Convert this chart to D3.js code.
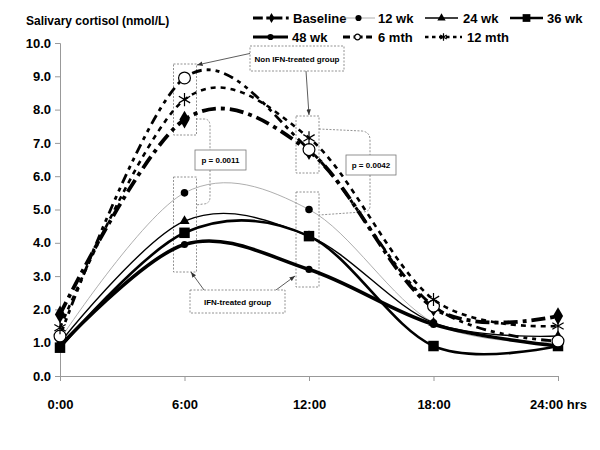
<!DOCTYPE html>
<html><head><meta charset="utf-8">
<script src="https://cdn.jsdelivr.net/npm/d3@7/dist/d3.min.js"></script>
<style>body{margin:0;background:#fff}svg{font-family:"Liberation Sans",Arial,sans-serif;font-weight:bold}</style>
</head><body><svg id="c" width="600" height="450"></svg>
<script>
const hours = [0, 6, 12, 18, 24];
const xTickLabels = ["0:00", "6:00", "12:00", "18:00", "24:00 hrs"];
const yTicks = [0,1,2,3,4,5,6,7,8,9,10];
const seriesNames = ["Baseline","12 wk","24 wk","36 wk","48 wk","6 mth","12 mth"];
const baseline = [1.85, 7.7, 6.75, 2.05, 1.8];
const wk12 = [1.1, 5.5, 5.0, 1.6, 1.0];
const wk24 = [1.0, 4.65, 4.2, 1.6, 1.2];
const wk36 = [0.85, 4.3, 4.2, 0.9, 0.9];
const wk48 = [0.9, 3.95, 3.2, 1.55, 0.9];
const mth6 = [1.2, 8.95, 6.8, 2.1, 1.05];
const mth12 = [1.45, 8.3, 7.15, 2.3, 1.5];

const svg = d3.select("#c");
const x = d3.scaleLinear().domain([0,24]).range([60,558]);
const y = d3.scaleLinear().domain([0,10]).range([376,43]);

// axes
const xAxis = svg.append("g").attr("transform","translate(0,376)")
  .call(d3.axisBottom(x).tickValues(hours).tickSize(5).tickPadding(19).tickFormat((d,i)=>xTickLabels[i]));
const yAxis = svg.append("g").attr("transform","translate(60,0)")
  .call(d3.axisLeft(y).tickValues(yTicks).tickSize(5).tickPadding(4).tickFormat(d3.format(".1f")));
[xAxis,yAxis].forEach(a=>{
  a.selectAll("path,line").attr("stroke","#999");
  a.selectAll("text").attr("fill","#000").style("font-size","13px").style("font-weight","bold");
});
svg.append("text").attr("x",26).attr("y",25).style("font-size","12px").text("Salivary cortisol (nmol/L)");

// annotations (behind lines)
const ann = svg.append("g").attr("fill","none").attr("stroke","#777").attr("stroke-width",0.8).attr("stroke-dasharray","2,1.5");
function box(x0,y0,x1,y1){ann.append("rect").attr("x",x0).attr("y",y0).attr("width",x1-x0).attr("height",y1-y0);}
box(x(6)-11,64,x(6)+12,135);
box(x(12)-13,116,x(12)+10,173);
box(x(6)-11,177,x(6)+12,272);
box(x(12)-13,192,x(12)+10,287);
// brackets
ann.append("path").attr("d","M196,119 L204,119 Q210,119 210,126 L210,150 M210,170 L210,197 Q210,204 203,204 L196,205");
ann.append("path").attr("d","M319,129 L362,131 Q370,132 370,140 L370,155 M370,175 L370,206 Q370,212 362,212 L319,215");

const defs = svg.append("defs");
defs.append("marker").attr("id","ah").attr("viewBox","0 0 10 10").attr("refX",10).attr("refY",5)
  .attr("markerWidth",7).attr("markerHeight",7).attr("orient","auto")
  .append("path").attr("d","M0,1 L10,5 L0,9 Z").attr("fill","#333");
const arr = svg.append("g").attr("stroke","#333").attr("stroke-width",0.8);
function arrow(a,b,c,d){arr.append("line").attr("x1",a).attr("y1",b).attr("x2",c).attr("y2",d).attr("marker-end","url(#ah)");}
arrow(252,53,197,65);
arrow(306,71,309,115);
arrow(204,290,191,272);
arrow(276,290,295,276);

function labelBox(x0,y0,x1,y1,t,fs){
  svg.append("rect").attr("x",x0).attr("y",y0).attr("width",x1-x0).attr("height",y1-y0)
    .attr("fill","#fff").attr("stroke","#777").attr("stroke-width",0.8).attr("stroke-dasharray",fs?"2,1.5":null);
  svg.append("text").attr("x",(x0+x1)/2).attr("y",(y0+y1)/2+3).attr("text-anchor","middle").style("font-size","8px").text(t);
}
labelBox(250,46,344,71,"Non IFN-treated group",true);
labelBox(190,290,285,313,"IFN-treated group",true);
labelBox(195,150,246,170,"p = 0.0011",false);
labelBox(346,155,396,175,"p = 0.0042",false);

// series
const styles = [
  {data:baseline, w:3.8, c:"#000", dash:"14,5,4,5", m:"diamond", ms:90},
  {data:wk12, w:0.8, c:"#999", dash:null, m:"circle", ms:45},
  {data:wk24, w:1.4, c:"#000", dash:null, m:"triangle", ms:45},
  {data:wk36, w:2.6, c:"#000", dash:null, m:"square", ms:110},
  {data:wk48, w:3.6, c:"#000", dash:null, m:"circle", ms:40},
  {data:mth6, w:2.8, c:"#000", dash:"10,5,4,5,4,5", m:"ocircle", ms:110},
  {data:mth12, w:2.6, c:"#000", dash:"5,5", m:"asterisk", ms:120}
];
const line = d3.line().x(d=>x(d[0])).y(d=>y(d[1])).curve(d3.curveCardinal.tension(0));
const symMap = {diamond:d3.symbolDiamond, circle:d3.symbolCircle, triangle:d3.symbolTriangle, square:d3.symbolSquare, ocircle:d3.symbolCircle, asterisk:d3.symbolAsterisk};

function drawMarker(g, s, cx, cy, size){
  const p = g.append("path").attr("transform",`translate(${cx},${cy})`)
    .attr("d", d3.symbol().type(symMap[s.m]).size(size)());
  if(s.m==="ocircle") p.attr("fill","#fff").attr("stroke","#000").attr("stroke-width",1.2);
  else if(s.m==="asterisk") p.attr("fill","none").attr("stroke","#000").attr("stroke-width",1.2);
  else p.attr("fill","#000");
}

styles.forEach(s=>{
  const pts = hours.map((h,i)=>[h,s.data[i]]);
  svg.append("path").attr("d",line(pts)).attr("fill","none").attr("stroke",s.c)
    .attr("stroke-width",s.w).attr("stroke-dasharray",s.dash);
  const g = svg.append("g");
  pts.forEach(p=>drawMarker(g,s,x(p[0]),y(p[1]),s.ms));
});

// legend
const leg = [
  {i:0, x0:253, x1:290, tx:293, ly:18},
  {i:1, x0:342, x1:375, tx:378, ly:18},
  {i:2, x0:425, x1:458, tx:463, ly:18},
  {i:3, x0:510, x1:543, tx:547, ly:18},
  {i:4, x0:253, x1:288, tx:292, ly:37},
  {i:5, x0:343, x1:372, tx:378, ly:37},
  {i:6, x0:425, x1:462, tx:467, ly:37}
];
const lg = svg.append("g");
leg.forEach(L=>{
  const s = styles[L.i];
  lg.append("line").attr("x1",L.x0).attr("x2",L.x1).attr("y1",L.ly).attr("y2",L.ly)
    .attr("stroke",s.c).attr("stroke-width",Math.min(s.w,3)).attr("stroke-dasharray",s.dash?s.dash.split(",").map(v=>v*0.7).join(","):null);
  drawMarker(lg,s,(L.x0+L.x1)/2,L.ly,s.m==="square"?60:s.m==="ocircle"?25:s.m==="asterisk"?40:30);
  lg.append("text").attr("x",L.tx).attr("y",L.ly+5).style("font-size","13px").text(seriesNames[L.i]);
});
</script></body></html>
